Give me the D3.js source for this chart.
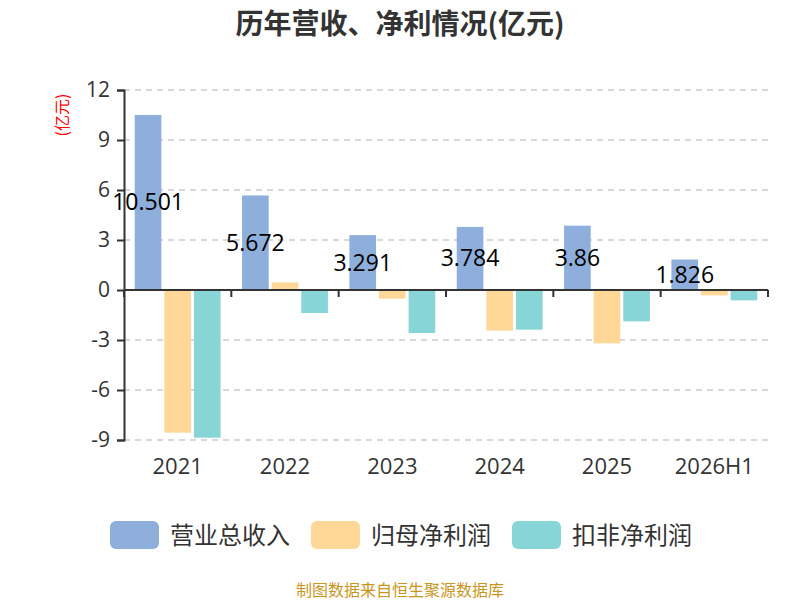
<!DOCTYPE html>
<html><head><meta charset="utf-8">
<script src="https://cdn.jsdelivr.net/npm/d3@7/dist/d3.min.js"></script>
<style>body{margin:0;background:#fff;}svg{display:block;font-family:"Microsoft YaHei","Noto Sans CJK SC",sans-serif;}</style>
</head><body>
<svg id="c" width="800" height="600"></svg>
<script>
const categories = ["2021","2022","2023","2024","2025","2026H1"];
const seriesNames = ["营业总收入","归母净利润","扣非净利润"];
const revenue = [10.501, 5.672, 3.291, 3.784, 3.86, 1.826];
const netProfit = [-8.56, 0.46, -0.52, -2.44, -3.2, -0.32];
const deductedProfit = [-8.86, -1.38, -2.58, -2.38, -1.88, -0.62];
const yTicks = [-9, -6, -3, 0, 3, 6, 9, 12];
const colors = ["#8EAEDB", "#FFD898", "#88D5D8"];

(function(){
const svg = d3.select("#c");
const numFont = "'Open Sans','Noto Sans',sans-serif";
const pL = 124, pR = 768, pT = 90, pB = 440;
const x = d3.scaleBand().domain(categories).range([pL, pR]).paddingInner(0).paddingOuter(0);
const y = d3.scaleLinear().domain([-9, 12]).range([pB, pT]);
const inner = d3.scaleBand().domain([0,1,2]).range([x.bandwidth()*0.1, x.bandwidth()*0.9]).paddingInner(0.1);

// title
svg.append("text").attr("x", 400).attr("y", 34).attr("text-anchor", "middle")
  .attr("font-size", 28).attr("font-weight", "bold").attr("fill", "#333").text("历年营收、净利情况(亿元)");

// grid
svg.append("g").selectAll("line").data(yTicks.filter(d => d !== 0)).join("line")
  .attr("x1", pL).attr("x2", pR).attr("y1", d => y(d)).attr("y2", d => y(d))
  .attr("stroke", "#ccc").attr("stroke-width", 1.5).attr("stroke-dasharray", "6,5");

// y axis
const yAxis = svg.append("g").attr("transform", `translate(${pL},0)`)
  .call(d3.axisLeft(y).tickValues(yTicks).tickSize(7).tickPadding(7).tickFormat(d => String(d)));
yAxis.select(".domain").attr("stroke", "#333").attr("stroke-width", 2);
yAxis.selectAll(".tick line").attr("stroke", "#333").attr("stroke-width", 2);
yAxis.selectAll("text").attr("font-size", 21).attr("fill", "#333").attr("font-family", numFont);

// unit label
svg.append("text").attr("transform", "translate(68,115) rotate(-90)").attr("text-anchor", "middle")
  .attr("font-size", 16).attr("fill", "#ff0000").text("(亿元)");

// bars
const data = [revenue, netProfit, deductedProfit];
data.forEach((vals, si) => {
  svg.append("g").selectAll("rect").data(vals).join("rect")
    .attr("x", (d, i) => x(categories[i]) + inner(si))
    .attr("width", inner.bandwidth())
    .attr("y", d => y(Math.max(0, d)))
    .attr("height", d => Math.abs(y(d) - y(0)))
    .attr("fill", colors[si]);
});

// x axis at zero
const xAxis = svg.append("g").attr("transform", `translate(0,${y(0)})`)
  .call(d3.axisBottom(x).tickSize(7).tickFormat(""));
xAxis.select(".domain").attr("stroke", "#333").attr("stroke-width", 2).attr("d", `M${pL},0H${pR}`);
xAxis.selectAll(".tick").remove();
xAxis.selectAll(".bnd").data(d3.range(categories.length + 1)).join("line")
  .attr("x1", i => pL + i * x.step()).attr("x2", i => pL + i * x.step())
  .attr("y1", 0).attr("y2", 7).attr("stroke", "#333").attr("stroke-width", 2);

// x labels
svg.append("g").selectAll("text").data(categories).join("text")
  .attr("x", d => x(d) + x.bandwidth()/2).attr("y", 474).attr("text-anchor", "middle")
  .attr("font-size", 22).attr("fill", "#333").attr("font-family", numFont).text(d => d);

// value labels
svg.append("g").selectAll("text").data(revenue).join("text")
  .attr("x", (d, i) => x(categories[i]) + inner(0) + inner.bandwidth()/2)
  .attr("y", d => (y(d) + y(0)) / 2 + 8).attr("text-anchor", "middle")
  .attr("font-size", 23).attr("fill", "#000").attr("font-family", numFont).text(d => d);

// legend
const legX = [110, 311, 512];
seriesNames.forEach((n, i) => {
  svg.append("rect").attr("x", legX[i]).attr("y", 521).attr("width", 49).attr("height", 28).attr("rx", 6)
    .attr("fill", colors[i]);
  svg.append("text").attr("x", legX[i] + 60).attr("y", 544).attr("font-size", 24).attr("fill", "#333").text(n);
});

// footer
svg.append("text").attr("x", 400).attr("y", 596).attr("text-anchor", "middle").attr("font-size", 16)
  .attr("fill", "#C8961E").text("制图数据来自恒生聚源数据库");
})();
</script>
</body></html>
